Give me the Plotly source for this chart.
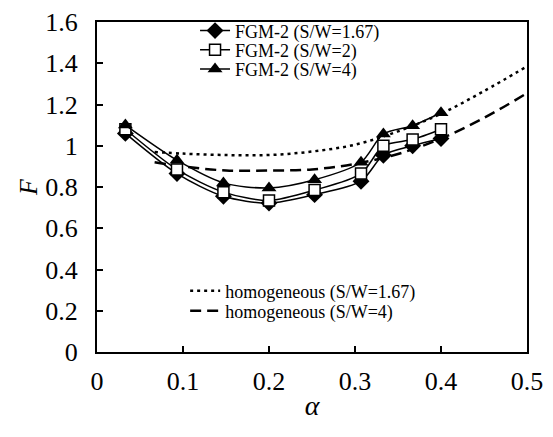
import plotly.graph_objects as go

# FGM-2 data
alpha_fgm = [0.033, 0.093, 0.147, 0.2, 0.253, 0.307, 0.333, 0.367, 0.4]
F_sw167 = [1.06, 0.865, 0.755, 0.722, 0.763, 0.828, 0.954, 1.0, 1.035]
F_sw2 = [1.08, 0.885, 0.775, 0.735, 0.785, 0.865, 1.0, 1.03, 1.08]
F_sw4 = [1.10, 0.93, 0.82, 0.795, 0.835, 0.92, 1.057, 1.097, 1.16]

# homogeneous data
alpha_hom = [0.067, 0.1, 0.15, 0.2, 0.25, 0.3, 0.35, 0.4, 0.45, 0.5]
F_hom167 = [0.97, 0.962, 0.955, 0.955, 0.972, 1.005, 1.07, 1.155, 1.265, 1.385]
F_hom4 = [0.92, 0.9, 0.88, 0.88, 0.885, 0.912, 0.96, 1.035, 1.135, 1.255]

x_ticks = [0, 0.1, 0.2, 0.3, 0.4, 0.5]
x_ticklabels = ["0", "0.1", "0.2", "0.3", "0.4", "0.5"]
y_ticks = [0, 0.2, 0.4, 0.6, 0.8, 1.0, 1.2, 1.4, 1.6]
y_ticklabels = ["0", "0.2", "0.4", "0.6", "0.8", "1", "1.2", "1.4", "1.6"]

FONT = "Liberation Serif, Times New Roman, serif"

fig = go.Figure()

fig.add_trace(go.Scatter(
    x=alpha_hom, y=F_hom167, mode="lines", name="homogeneous (S/W=1.67)",
    line=dict(color="black", width=2.5, dash="3px,4px", shape="spline", smoothing=1),
    legend="legend4"))
fig.add_trace(go.Scatter(
    x=alpha_hom, y=F_hom4, mode="lines", name="homogeneous (S/W=4)",
    line=dict(color="black", width=2.5, dash="11px,6px", shape="spline", smoothing=1),
    legend="legend5"))

fig.add_trace(go.Scatter(
    x=alpha_fgm, y=F_sw167, mode="lines+markers", name="FGM-2 (S/W=1.67)",
    line=dict(color="black", width=1.5, shape="spline", smoothing=0.8),
    marker=dict(symbol="diamond", size=13, color="black"),
    legend="legend"))
fig.add_trace(go.Scatter(
    x=alpha_fgm, y=F_sw2, mode="lines+markers", name="FGM-2 (S/W=2)",
    line=dict(color="black", width=1.5, shape="spline", smoothing=0.8),
    marker=dict(symbol="square", size=11, color="white",
                line=dict(color="black", width=1.5)),
    legend="legend2"))
fig.add_trace(go.Scatter(
    x=alpha_fgm, y=F_sw4, mode="lines+markers", name="FGM-2 (S/W=4)",
    line=dict(color="black", width=1.5, shape="spline", smoothing=0.8),
    marker=dict(symbol="triangle-up", size=13, color="black"),
    legend="legend3"))

def leg(x, y, size):
    return dict(x=x, y=y, xanchor="left", yanchor="middle",
                bgcolor="rgba(0,0,0,0)", font=dict(size=size, family=FONT),
                itemwidth=30, borderwidth=0)

fig.update_layout(
    width=553, height=437,
    margin=dict(l=97, r=26, t=16, b=85),
    paper_bgcolor="white", plot_bgcolor="white",
    font=dict(family=FONT, color="black", size=24),
    legend=leg(0.228, 0.973, 18),
    legend2=leg(0.228, 0.915, 18),
    legend3=leg(0.228, 0.857, 18),
    legend4=leg(0.205, 0.185, 18),
    legend5=leg(0.205, 0.124, 18),
    showlegend=True,
)

fig.update_xaxes(
    range=[0, 0.5], tickvals=x_ticks, ticktext=x_ticklabels,
    showgrid=False, zeroline=False, showline=True, linecolor="black",
    linewidth=2, mirror=True, ticks="inside", ticklen=6, tickwidth=1.5,
    tickcolor="black", tickfont=dict(size=26, family=FONT),
    ticklabelstandoff=5, automargin=False,
    title=dict(text="<i>α</i>", font=dict(size=28, family=FONT), standoff=0))
fig.update_yaxes(
    range=[0, 1.6], tickvals=y_ticks, ticktext=y_ticklabels,
    showgrid=False, zeroline=False, showline=True, linecolor="black",
    linewidth=2, mirror=True, ticks="inside", ticklen=6, tickwidth=1.5,
    tickcolor="black", tickfont=dict(size=26, family=FONT),
    ticklabelstandoff=12, automargin=False,
    title=dict(text="<i>F</i>", font=dict(size=26, family=FONT), standoff=0))

fig.write_html("out.html",
               config={"displayModeBar": False},
               post_script="document.body.style.margin='0';"
                           "document.body.style.overflow='hidden';")
